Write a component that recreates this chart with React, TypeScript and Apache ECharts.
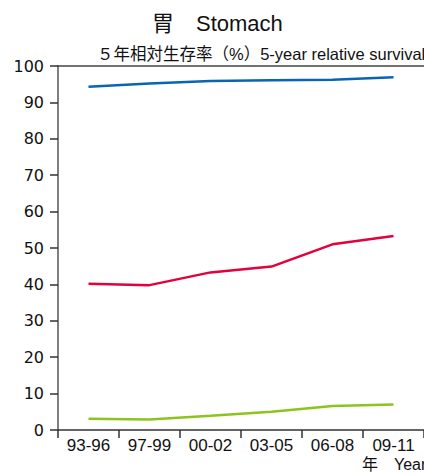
import React, { useEffect, useRef } from "react";
import * as echarts from "echarts";

const periods = ["93-96", "97-99", "00-02", "03-05", "06-08", "09-11"];
const blueValues = [94.3, 95.2, 95.9, 96.1, 96.2, 96.9];
const redValues = [40.2, 39.8, 43.3, 44.9, 51.0, 53.3];
const greenValues = [3.1, 2.9, 3.9, 5.0, 6.6, 7.0];
const yTicks = [0, 10, 20, 30, 40, 50, 60, 70, 80, 90, 100];

export default function App() {
  const ref = useRef<HTMLDivElement>(null);
  useEffect(() => {
    if (!ref.current) return;
    const chart = echarts.init(ref.current, undefined, { renderer: "svg" });
    const numFont = "'DejaVu Sans', 'Liberation Sans', sans-serif";
    const mixFont = "'Liberation Sans', 'Noto Sans CJK JP', sans-serif";
    chart.setOption({
      animation: false,
      backgroundColor: "#ffffff",
      title: [
        {
          text: "胃　Stomach",
          left: 147,
          top: 7,
          textStyle: {
            fontFamily: mixFont,
            fontSize: 22,
            fontWeight: "normal",
            color: "#111",
          },
        },
        {
          text: "５年相対生存率（%）5-year relative survival",
          left: 92,
          top: 41,
          textStyle: {
            fontFamily: mixFont,
            fontSize: 16.5,
            fontWeight: "normal",
            color: "#111",
          },
        },
      ],
      graphic: [
        {
          type: "text",
          left: 362,
          top: 456,
          style: {
            text: "年　Year",
            fontFamily: mixFont,
            fontSize: 16,
            fill: "#111",
          },
        },
      ],
      grid: { left: 58, top: 66, width: 368, height: 364, containLabel: false },
      xAxis: [
        {
          type: "category",
          data: periods,
          boundaryGap: true,
          position: "bottom",
          axisLine: { lineStyle: { color: "#333", width: 1.5 } },
          axisTick: { show: true, interval: 0, length: 8, lineStyle: { color: "#333", width: 1.5 } },
          axisLabel: {
            interval: 0,
            margin: 7,
            fontFamily: "'Liberation Sans', sans-serif",
            fontSize: 17,
            color: "#111",
          },
          splitLine: { show: false },
        },
        {
          type: "category",
          data: periods,
          position: "top",
          axisLine: { lineStyle: { color: "#444", width: 1.5 } },
          axisTick: { show: false },
          axisLabel: { show: false },
        },
      ],
      yAxis: {
        type: "value",
        min: 0,
        max: 100,
        interval: 10,
        axisLine: { show: true, lineStyle: { color: "#808080", width: 2 } },
        axisTick: { show: true, length: 8, lineStyle: { color: "#333", width: 1.5 } },
        axisLabel: {
          margin: 14,
          fontFamily: numFont,
          fontSize: 16,
          color: "#111",
          formatter: (v: number) => (yTicks.includes(v) ? String(v) : ""),
        },
        splitLine: { show: false },
      },
      series: [
        {
          type: "line",
          data: blueValues,
          symbol: "none",
          lineStyle: { color: "#0a64b4", width: 2.5 },
        },
        {
          type: "line",
          data: redValues,
          symbol: "none",
          lineStyle: { color: "#e4003a", width: 2.5 },
        },
        {
          type: "line",
          data: greenValues,
          symbol: "none",
          lineStyle: { color: "#8cc41e", width: 2.5 },
        },
      ],
    });
    return () => chart.dispose();
  }, []);
  return (
    <div
      ref={ref}
      style={{ position: "absolute", left: 0, top: 0, width: 424, height: 475 }}
    />
  );
}
